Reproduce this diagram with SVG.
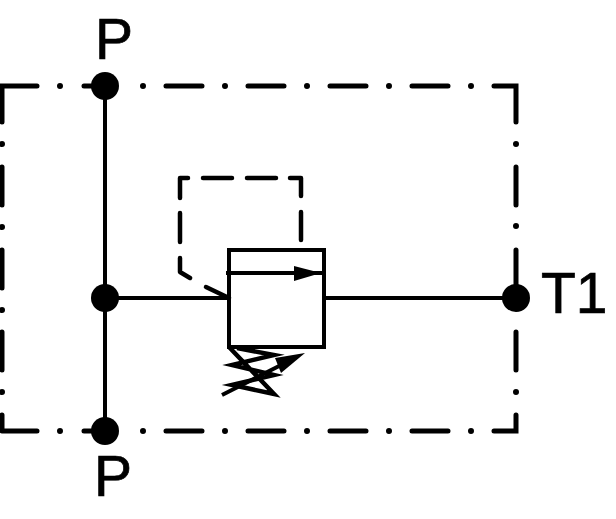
<svg xmlns="http://www.w3.org/2000/svg" width="616" height="519" viewBox="0 0 616 519">
<style>
.b{fill:none;stroke:#000;stroke-width:5;stroke-linecap:round;stroke-linejoin:miter}
.o{fill:none;stroke:#000;stroke-width:6;stroke-linecap:round}
.l{fill:none;stroke:#000;stroke-width:4;stroke-linejoin:miter}
.p{fill:none;stroke:#000;stroke-width:4.5;stroke-linecap:round;stroke-linejoin:round}
.s{fill:none;stroke:#000;stroke-width:4;stroke-linejoin:miter}
.w{fill:none;stroke:#000;stroke-width:4.5;stroke-linejoin:miter;stroke-miterlimit:8}
.d{fill:#000}
text{font-family:"Liberation Sans",Arial,sans-serif;font-size:57px;fill:#000;stroke:#000;stroke-width:.7}
</style>
<rect width="616" height="519" fill="#fff"/>
<g id="boundary">
<path class="b" d="M2 122V86H37M84 86H105M166 86H202M248 86H284M330 86H366M412 86H448M494 86H516V122M516 167V205M516 250V298M516 332V370M516 415V431H494M412 431H448M330 431H366M248 431H284M166 431H202M84 431H105M2 431H37M2 415V431M2 332V370M2 250V288M2 167V205"/>
<path class="o" d="M60 86V86M143 86V86M225 86V86M307 86V86M389 86V86M471 86V86M516 144V144M516 226V226M516 392V392M471 431V431M389 431V431M307 431V431M225 431V431M143 431V431M60 431V431M2 392V392M2 310V310M2 227V227M2 144V144"/>
</g>
<g id="connectors">
<path class="l" d="M105 86V431M105 298H229M325 298H516"/>
</g>
<g id="port-p-top"><circle class="d" cx="105" cy="86" r="14"/><text x="95" y="59">P</text></g>
<g id="junction"><circle class="d" cx="105" cy="298" r="14"/></g>
<g id="port-p-bottom"><circle class="d" cx="105" cy="431" r="14"/><text x="94" y="496">P</text></g>
<g id="port-t1"><circle class="d" cx="516" cy="298" r="14"/><text x="541" y="313">T1</text></g>
<g id="valve">
<rect class="s" x="229" y="250" width="95" height="97"/>
<path class="l" d="M226 273H323"/>
<path class="d" d="M294 266L321 273L294 281Z"/>
<path class="p" d="M188 178H180V198M203 178H232M247 178H276M290 178H301V196M301 212V240M180 213V242M180 258V272L190 278"/>
<path class="p" d="M206 287L229 298"/>
<path class="w" d="M237 348L274 355L232 365L274 375L232 385L274 394L229 347"/>
<path class="l" d="M222 395L285 363"/>
<path class="d" d="M305 353L275 358L281 373Z"/>
</g>
</svg>
